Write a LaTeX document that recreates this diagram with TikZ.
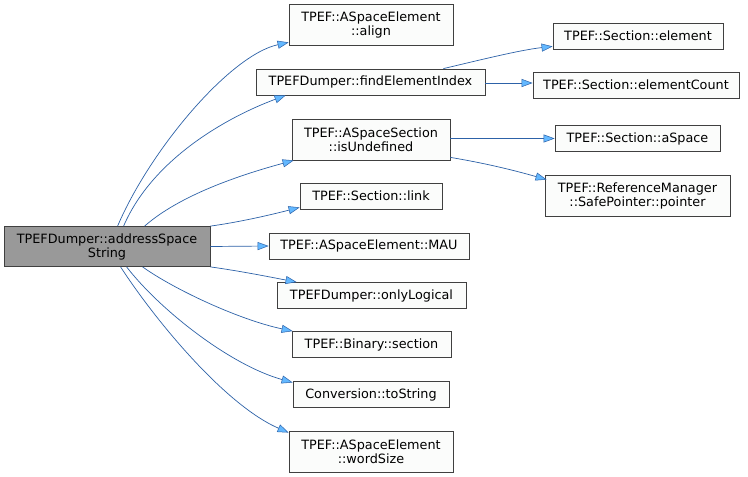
\documentclass[tikz,border=0pt]{standalone}
\usepackage{fontspec}
\setmainfont{DejaVu Sans}
\usetikzlibrary{arrows.meta,calc}
\definecolor{edgecol}{RGB}{45,98,168}
\definecolor{arrfill}{RGB}{99,184,255}
\definecolor{boxborder}{RGB}{64,64,64}
\definecolor{boxfill}{RGB}{251,252,251}
\definecolor{mainfill}{RGB}{153,153,153}
\begin{document}
\begin{tikzpicture}[x=1pt,y=-1pt,
  box/.style={draw=boxborder,fill=boxfill,line width=0.8pt,inner sep=0pt,align=center,
    font=\fontsize{12.8}{14}\selectfont},
  mainbox/.style={box,fill=mainfill,draw=black!75},
  edge/.style={draw=edgecol,line width=0.7pt,
    -{Triangle[length=11pt,width=8pt,fill=arrfill,line width=0.5pt]}}]
\useasboundingbox (0,0) rectangle (748,477);
\fill[white] (0,0) rectangle (748,477);
\node[mainbox,minimum width=206pt,minimum height=40pt] (main) at (107,246.5) {TPEFDumper::addressSpace\\String};
\node[box,minimum width=164pt,minimum height=41pt] (align) at (371,24.5) {TPEF::ASpaceElement\\::align};
\node[box,minimum width=229pt,minimum height=26pt] (find) at (370.5,82) {TPEFDumper::findElementIndex};
\node[box,minimum width=170pt,minimum height=26pt] (element) at (638,36) {TPEF::Section::element};
\node[box,minimum width=206pt,minimum height=26pt] (count) at (636,85) {TPEF::Section::elementCount};
\node[box,minimum width=158pt,minimum height=41pt] (isund) at (371,139.5) {TPEF::ASpaceSection\\::isUndefined};
\node[box,minimum width=165pt,minimum height=26pt] (aspace) at (637.5,138.5) {TPEF::Section::aSpace};
\node[box,minimum width=185pt,minimum height=41pt] (pointer) at (637.5,195.5) {TPEF::ReferenceManager\\::SafePointer::pointer};
\node[box,minimum width=142pt,minimum height=26pt] (link) at (371,196) {TPEF::Section::link};
\node[box,minimum width=200pt,minimum height=26pt] (mau) at (369,246) {TPEF::ASpaceElement::MAU};
\node[box,minimum width=189pt,minimum height=26pt] (only) at (371.5,295.5) {TPEFDumper::onlyLogical};
\node[box,minimum width=159pt,minimum height=26pt] (section) at (371.5,344.5) {TPEF::Binary::section};
\node[box,minimum width=156pt,minimum height=26pt] (tostr) at (371,394.5) {Conversion::toString};
\node[box,minimum width=164pt,minimum height=41pt] (word) at (371,451.5) {TPEF::ASpaceElement\\::wordSize};
% edges from main
\draw[edge] ($(main.north west)+(114,0)$) .. controls (150,150) and (230,55) .. ($(align.south west)+(0,-3)$);
\draw[edge] ($(main.north west)+(120,0)$) .. controls (152,160) and (225,118) .. ($(find.south west)+(30,0)$);
\draw[edge] ($(main.north west)+(141,0)$) .. controls (180,195) and (240,175) .. ($(isund.south west)+(2,0)$);
\draw[edge] (main.north east) .. controls (240,222) and (270,215) .. ($(link.south west)+(0,-2)$);
\draw[edge] (main.east) -- (mau.west);
\draw[edge] (main.south east) .. controls (240,271) and (270,277) .. ($(only.north west)+(20,0)$);
\draw[edge] ($(main.south west)+(139,0)$) .. controls (175,290) and (240,320) .. ($(section.north west)+(1,0)$);
\draw[edge] ($(main.south west)+(123,0)$) .. controls (160,310) and (230,365) .. ($(tostr.west)+(0,-12)$);
\draw[edge] ($(main.south west)+(117,0)$) .. controls (155,320) and (225,405) .. ($(word.north west)+(0,2)$);
% second level
\draw[edge] ($(find.north east)+(-42,0)$) .. controls (480,60) and (520,50) .. ($(element.south west)+(0,-3)$);
\draw[edge] ($(find.east)+(0,1)$) -- ($(count.west)+(0,-2)$);
\draw[edge] ($(isund.east)+(0,-1)$) -- ($(aspace.west)+(0,0)$);
\draw[edge] ($(isund.south east)+(0,-3)$) .. controls (490,164) and (520,172) .. ($(pointer.north west)+(2,5)$);
\end{tikzpicture}
\end{document}
